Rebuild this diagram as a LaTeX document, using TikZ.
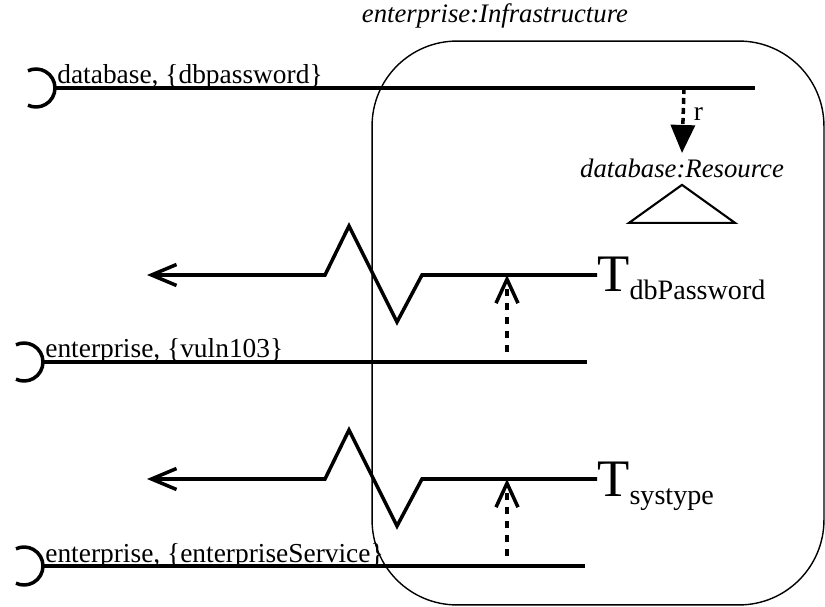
\documentclass[tikz,border=0pt]{standalone}
\usepackage{fontspec}
\setmainfont{Liberation Serif}
\usetikzlibrary{positioning,calc,arrows.meta}

% open socket drawn at the left end of a wire
\newcommand{\socket}[1]{\draw[hookline] (#1) arc[start angle=0, end angle=115, radius=0.38cm] (#1) arc[start angle=0, end angle=-115, radius=0.38cm];}

\begin{document}
\begin{tikzpicture}[x=0.02cm, y=-0.02cm,
  infra/.style={rectangle, draw, line width=0.8pt, rounded corners=1.7cm, minimum width=9.04cm, minimum height=11.28cm},
  lbl/.style={inner sep=0pt, font=\rmfamily\fontsize{15.6}{18}\selectfont},
  ilbl/.style={inner sep=0pt, font=\rmfamily\fontsize{15.2}{18}\selectfont\itshape},
  tlbl/.style={inner sep=0pt, anchor=base west, font=\rmfamily},
  wire/.style={line width=2pt},
  hookline/.style={line width=2pt},
  tri/.style={line width=1.2pt, line join=miter},
  flow/.style={-{Straight Barb[length=0.5cm,width=0.42cm]}, line width=2pt, line join=miter},
  taint/.style={-{Straight Barb[length=0.48cm,width=0.44cm]}, line width=2pt, dash pattern=on 0.15cm off 0.13cm, shorten <=0.2cm},
  refarrow/.style={-{Triangle[length=0.56cm,width=0.48cm]}, line width=2pt, dash pattern=on 0.12cm off 0.08cm}
]
  \useasboundingbox (0,0) rectangle (825,607);

  % Nodes
  \node[infra] (infra) at (598,323) {};
  \node[ilbl, anchor=base] (title) at (495,23) {enterprise:Infrastructure};
  \node[ilbl, inner sep=3.5pt, anchor=base] (res) at (682,178) {database:Resource};

  \coordinate (s1) at (55,88);
  \coordinate (e1) at (755,88);
  \coordinate (r1) at (684,88);
  \node[lbl, anchor=base west] (l1) at (57,84) {database, \{dbpassword\}};

  \coordinate (s3) at (43,362);
  \coordinate (e3) at (587,362);
  \node[lbl, anchor=base west] (l3) at (45,358) {enterprise, \{vuln103\}};

  \coordinate (s4) at (43,566);
  \coordinate (e4) at (585,566);
  \node[lbl, anchor=base west] (l4) at (45,562) {enterprise, \{enterpriseService\}};

  \coordinate (k1) at (597,275);
  \coordinate (a1) at (147,275);
  \node[tlbl] (t1) at ([yshift=-0.34cm]k1) {{\fontsize{30}{32}\selectfont T}\raisebox{-4.5pt}{\fontsize{16}{18}\selectfont dbPassword}};

  \coordinate (k2) at (597,479);
  \coordinate (a2) at (147,479);
  \node[tlbl] (t2) at ([yshift=-0.36cm]k2) {{\fontsize{30}{32}\selectfont T}\raisebox{-4.5pt}{\fontsize{16}{18}\selectfont systype}};

  \coordinate (v1) at (507,362);
  \coordinate (v2) at (507,566);

  % Wires
  \draw[wire] (s1) -- (e1);
  \draw[wire] (s3) -- (e3);
  \draw[wire] (s4) -- (e4);
  \socket{s1}
  \socket{s3}
  \socket{s4}

  % Resource
  \draw[refarrow] (r1) -- node[lbl, right=5pt, pos=0.4] {r} (res.north);
  \draw[tri] (res.south) -- ++(53,38) -- ++(-106,0) -- cycle;

  % Flows
  \draw[flow] (k1) -- ++(-175,0) -- ++(-25,47) -- ++(-48,-96) -- ++(-24,49) -- (a1);
  \draw[flow] (k2) -- ++(-175,0) -- ++(-25,47) -- ++(-48,-96) -- ++(-24,49) -- (a2);
  \draw[taint] (v1) -- (v1 |- k1);
  \draw[taint] (v2) -- (v2 |- k2);

\end{tikzpicture}
\end{document}
